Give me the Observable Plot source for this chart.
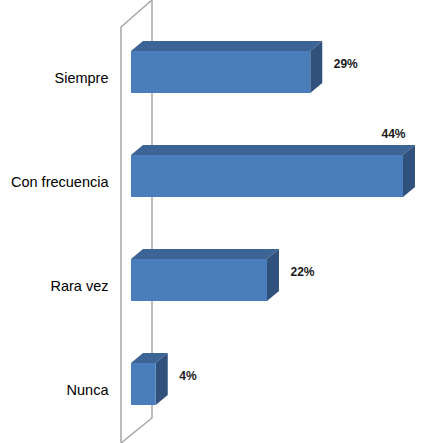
<!DOCTYPE html>
<html>
<head>
<meta charset="utf-8">
<script src="https://cdn.jsdelivr.net/npm/d3@7"></script>
<script src="https://cdn.jsdelivr.net/npm/@observablehq/plot@0.6"></script>
<style>
  html, body { margin: 0; padding: 0; background: #fff; }
  #chart svg { display: block; }
</style>
</head>
<body>
<div id="chart"></div>
<script>
const categories = ["Siempre", "Con frecuencia", "Rara vez", "Nunca"];
const values = [29, 44, 22, 4];
const valueLabels = ["29%", "44%", "22%", "4%"];

const data = categories.map((c, i) => ({cat: c, value: values[i], label: valueLabels[i]}));
const maxValue = d3.max(values);

const DX = 12, DY = -10; // 3D depth offset (px)
const FRONT = "#4A7EBB", TOP = "#3C6494", SIDE = "#30517B";

function bandwidthOf(y) {
  if (typeof y.bandwidth === "function") return y.bandwidth();
  if (typeof y.bandwidth === "number") return y.bandwidth;
  return 0;
}

// back wall (chart furniture), positioned from the x scale's origin
function wall(index, scales, values, dimensions) {
  const x0 = scales.x(0);
  const {height} = dimensions;
  const g = d3.create("svg:g")
    .attr("fill", "none").attr("stroke", "#A6A6A6").attr("stroke-width", 1.5);
  const fx = x0 - 10, bx = x0 + 21;
  g.append("path").attr("d", `M${bx},0V${height - 25}L${fx},${height}`);
  g.append("path").attr("d", `M${fx},${height}V27L${bx},0`);
  return g.node();
}

// 3D extrusion faces of each bar, through the Plot scales
function faces(index, scales) {
  const g = d3.create("svg:g");
  const bw = bandwidthOf(scales.y);
  for (const d of data) {
    const xa = scales.x(0), xb = scales.x(d.value);
    const ya = scales.y(d.cat), yb = ya + bw;
    g.append("path").attr("fill", TOP)
      .attr("d", `M${xa},${ya}L${xa + DX},${ya + DY}L${xb + DX},${ya + DY}L${xb},${ya}Z`);
    g.append("path").attr("fill", SIDE)
      .attr("d", `M${xb},${ya}L${xb + DX},${ya + DY}L${xb + DX},${yb + DY}L${xb},${yb}Z`);
  }
  return g.node();
}

const plot = Plot.plot({
  width: 424,
  height: 443,
  marginLeft: 131,
  marginRight: 21,
  marginTop: 50,
  marginBottom: 37,
  x: {domain: [0, maxValue], axis: null},
  y: {domain: categories, axis: null, paddingInner: 0.6, paddingOuter: 0},
  style: {fontFamily: "'Liberation Sans', Arial, sans-serif", background: "#fff"},
  marks: [
    wall,
    faces,
    Plot.barX(data, {x1: 0, x2: "value", y: "cat", fill: FRONT}),
    Plot.text(data, {x: 0, y: "cat", text: "cat", textAnchor: "end", dx: -23, dy: 6,
      fontSize: 14.5, fill: "#000"}),
    Plot.text(data.filter(d => d.value < maxValue), {x: "value", y: "cat", text: "label",
      textAnchor: "start", dx: 23, dy: -8, fontSize: 12, fontWeight: "bold", fill: "#1a1a1a"}),
    Plot.text(data.filter(d => d.value === maxValue), {x: "value", y: "cat", text: "label",
      textAnchor: "middle", dx: -10, dy: -42, fontSize: 12, fontWeight: "bold", fill: "#1a1a1a"})
  ]
});
document.getElementById("chart").appendChild(plot);
</script>
</body>
</html>
